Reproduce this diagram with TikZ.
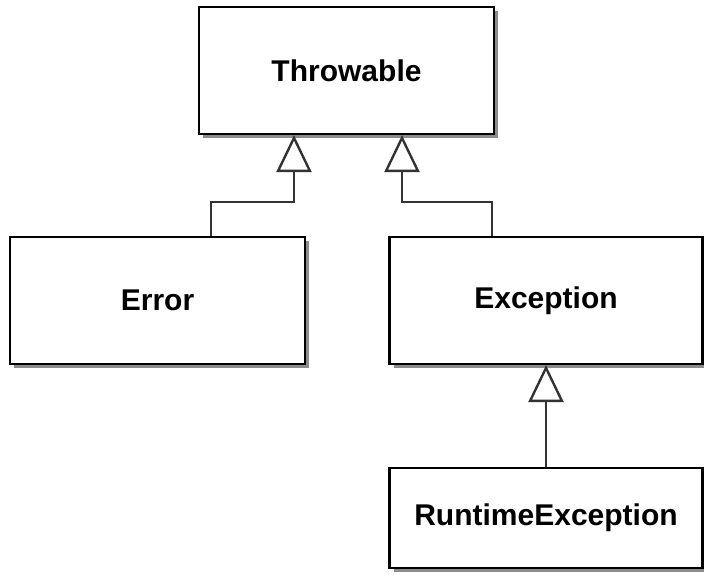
\documentclass[tikz,border=0pt]{standalone}
\usepackage{fontspec}
\setmainfont{Liberation Sans}
\usetikzlibrary{arrows.meta,shadows}
\begin{document}
\begin{tikzpicture}[x=1pt,y=-1pt,
  cls/.style={draw=black, line width=2.2pt, fill=white, inner sep=0pt,
    font=\fontsize{30}{36}\selectfont\bfseries,
    drop shadow={shadow xshift=4pt, shadow yshift=-4pt, fill=black, opacity=0.45}},
  inh/.style={draw=black!80, line width=2.8pt,
    -{Triangle[open, length=37pt, width=35pt, line width=2.4pt]}}]
\useasboundingbox (0,0) rectangle (704,576);
\node[cls, minimum width=295pt, minimum height=127pt] (thr) at (346.5,70.5) {Throwable};
\node[cls, minimum width=295pt, minimum height=127pt] (err) at (157.5,300.5) {Error};
\node[cls, minimum width=313pt, minimum height=127pt] (exc) at (546,300.5) {Exception};
\node[cls, minimum width=313pt, minimum height=100pt] (rte) at (546,518) {RuntimeException};
\coordinate (lb) at (211,202);
\coordinate (lt) at (294,202);
\coordinate (rt) at (402,202);
\coordinate (rb) at (492,202);
\draw[inh] (err.north -| lb) -- (lb) -- (lt) -- (thr.south -| lt);
\draw[inh] (exc.north -| rb) -- (rb) -- (rt) -- (thr.south -| rt);
\draw[inh] (rte.north) -- (exc.south);
\end{tikzpicture}
\end{document}
